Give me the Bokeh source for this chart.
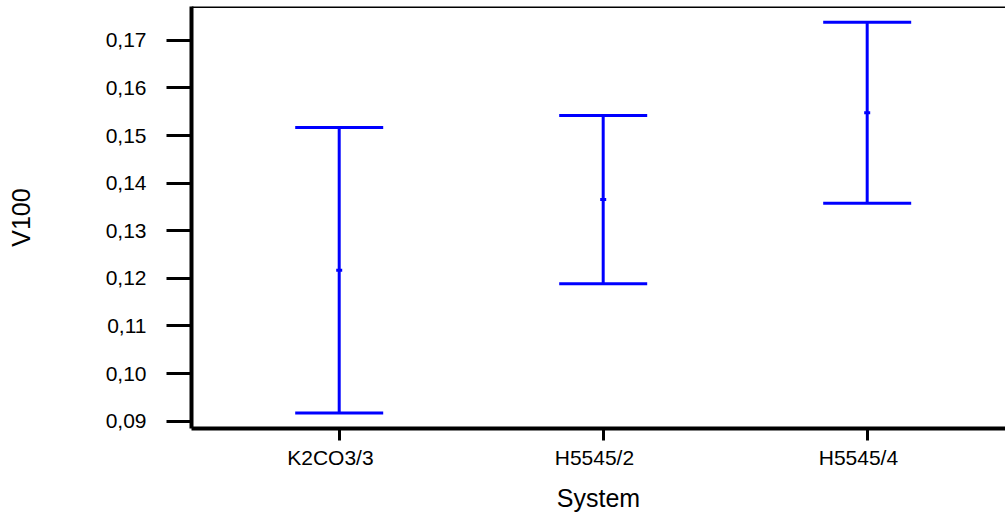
from bokeh.plotting import figure
from bokeh.models import (ColumnDataSource, Whisker, TeeHead, FixedTicker,
                          CustomJSTickFormatter, Range1d, Span)
from bokeh.embed import file_html
from bokeh.resources import INLINE

systems = ["K2CO3/3", "H5545/2", "H5545/4"]
means = [0.1217, 0.1366, 0.1548]
lower = [0.0917, 0.1189, 0.1358]
upper = [0.1517, 0.1542, 0.1738]
y_ticks = [0.09, 0.10, 0.11, 0.12, 0.13, 0.14, 0.15, 0.16, 0.17]

xpos = [i + 1 for i in range(len(systems))]
src = ColumnDataSource(dict(x=xpos, mean=means, lower=lower, upper=upper))

BLUE = "#0000FF"
FONT = "Liberation Sans"

p = figure(width=1005, height=520, output_backend="svg", toolbar_location=None,
           x_range=Range1d(0.4405, 3.5239), y_range=Range1d(0.088466, 0.17712),
           min_border_left=191, min_border_right=0, min_border_top=6,
           min_border_bottom=92)
p.outline_line_color = None
p.xgrid.grid_line_color = None
p.ygrid.grid_line_color = None
p.background_fill_color = "white"
p.border_fill_color = "white"

w = Whisker(source=src, base="x", upper="upper", lower="lower", dimension="height",
            line_color=BLUE, line_width=3,
            upper_head=TeeHead(size=88, line_color=BLUE, line_width=3),
            lower_head=TeeHead(size=88, line_color=BLUE, line_width=3))
p.add_layout(w)
p.scatter("x", "mean", source=src, marker="dash", size=6, line_width=3,
          line_color=BLUE, fill_color=BLUE)

top = Span(location=0.17712, dimension="width", line_color="black", line_width=3)
p.add_layout(top)

# y axis
p.yaxis.ticker = FixedTicker(ticks=y_ticks)
p.yaxis.formatter = CustomJSTickFormatter(code="return tick.toFixed(2).replace('.', ',');")
p.yaxis.axis_label = "V100"
p.yaxis.axis_label_text_font = FONT
p.yaxis.axis_label_text_font_size = "25px"
p.yaxis.axis_label_text_font_style = "normal"
p.yaxis.axis_label_standoff = 68
p.yaxis.major_label_text_font = FONT
p.yaxis.major_label_text_font_size = "21px"
p.yaxis.major_label_standoff = 20
p.yaxis.major_tick_out = 25
p.yaxis.major_tick_in = 0
p.yaxis.major_tick_line_width = 3
p.yaxis.minor_tick_line_color = None
p.yaxis.axis_line_width = 4

# x axis (labels sit slightly left of their ticks in the reference)
p.xaxis.ticker = FixedTicker(ticks=xpos)
p.xaxis.major_label_overrides = {x: s + "\u00a0\u00a0\u00a0" for x, s in zip(xpos, systems)}
p.xaxis.axis_label = "System"
p.xaxis.axis_label_text_font = FONT
p.xaxis.axis_label_text_font_size = "25px"
p.xaxis.axis_label_text_font_style = "normal"
p.xaxis.axis_label_standoff = 12
p.xaxis.major_label_text_font = FONT
p.xaxis.major_label_text_font_size = "21px"
p.xaxis.major_label_standoff = 5
p.xaxis.major_tick_out = 12
p.xaxis.major_tick_in = 0
p.xaxis.major_tick_line_width = 3
p.xaxis.minor_tick_line_color = None
p.xaxis.axis_line_width = 4

for ax in (p.xaxis[0], p.yaxis[0]):
    ax.major_label_text_color = "black"
    ax.axis_label_text_color = "black"
    ax.axis_line_color = "black"
    ax.major_tick_line_color = "black"

open("out.html", "w").write(file_html(p, INLINE))
